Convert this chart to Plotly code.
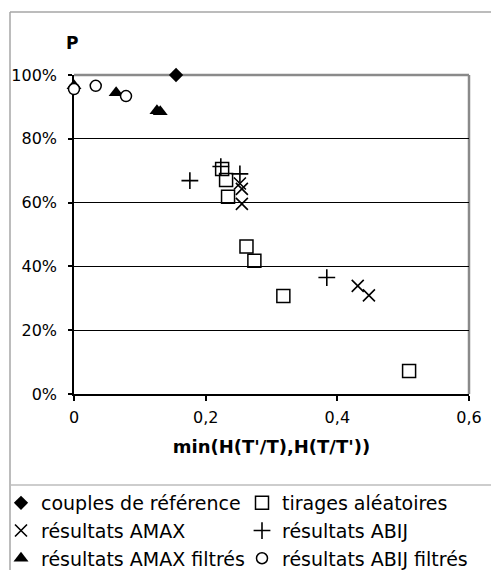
import plotly.graph_objects as go

# ---- data ----
ref_x = [0.155]
ref_y = [1.0]

tir_x = [0.225, 0.231, 0.234, 0.262, 0.274, 0.318, 0.509]
tir_y = [0.705, 0.671, 0.618, 0.462, 0.418, 0.307, 0.072]

amax_x = [0.252, 0.255, 0.255, 0.431, 0.448]
amax_y = [0.660, 0.643, 0.596, 0.339, 0.309]

abij_x = [0.176, 0.223, 0.252, 0.384]
abij_y = [0.669, 0.713, 0.690, 0.365]

amaxf_x = [0.0, 0.064, 0.126, 0.131]
amaxf_y = [0.966, 0.944, 0.888, 0.885]

abijf_x = [0.0, 0.033, 0.079]
abijf_y = [0.956, 0.966, 0.934]

x_ticks = [0, 0.2, 0.4, 0.6]
x_ticklabels = ["0", "0,2", "0,4", "0,6"]
y_ticks = [0, 0.2, 0.4, 0.6, 0.8, 1.0]
y_ticklabels = ["0%", "20%", "40%", "60%", "80%", "100%"]

FONT = "DejaVu Sans"
W, H = 491, 570
L, R, T, B = 74, 22, 75, 176
PW, PH = W - L - R, H - T - B


def px_x(p):
    return (p - L) / PW


def px_y(p):
    return (H - B - p) / PH


fig = go.Figure()
common = dict(mode="markers", cliponaxis=False, hoverinfo="skip")
fig.add_trace(go.Scatter(x=ref_x, y=ref_y, name="couples de référence", legend="legend",
                         marker=dict(symbol="diamond", size=11, color="black"), **common))
fig.add_trace(go.Scatter(x=tir_x, y=tir_y, name="tirages aléatoires", legend="legend2",
                         marker=dict(symbol="square-open", size=13, color="black",
                                     line=dict(width=1.5, color="black")), **common))
fig.add_trace(go.Scatter(x=amax_x, y=amax_y, name="résultats AMAX", legend="legend",
                         marker=dict(symbol="x-thin-open", size=12, color="black",
                                     line=dict(width=1.6, color="black")), **common))
fig.add_trace(go.Scatter(x=abij_x, y=abij_y, name="résultats ABIJ", legend="legend2",
                         marker=dict(symbol="cross-thin-open", size=12, color="black",
                                     line=dict(width=1.6, color="black")), **common))
fig.add_trace(go.Scatter(x=amaxf_x, y=amaxf_y, name="résultats AMAX filtrés", legend="legend",
                         marker=dict(symbol="triangle-up", size=13, color="black"), **common))
fig.add_trace(go.Scatter(x=abijf_x, y=abijf_y, name="résultats ABIJ filtrés", legend="legend2",
                         marker=dict(symbol="circle", size=11, color="white",
                                     line=dict(width=1.5, color="black")), **common))

frame = "#a6a6a6"
shapes = [
    # outer frame
    dict(type="line", xref="paper", yref="paper", x0=px_x(10), x1=px_x(10),
         y0=px_y(12), y1=px_y(600), line=dict(color=frame, width=1.5)),
    dict(type="line", xref="paper", yref="paper", x0=px_x(10), x1=px_x(520),
         y0=px_y(12), y1=px_y(12), line=dict(color=frame, width=1.5)),
    dict(type="line", xref="paper", yref="paper", x0=px_x(10), x1=px_x(520),
         y0=px_y(485), y1=px_y(485), line=dict(color="#bdbdbd", width=1.5)),
    # plot area border (top, right)
    dict(type="line", xref="paper", yref="paper", x0=0, x1=1, y0=1, y1=1,
         line=dict(color="#8a8a8a", width=2.5), layer="below"),
    dict(type="line", xref="paper", yref="paper", x0=1, x1=1, y0=0, y1=1,
         line=dict(color="#8a8a8a", width=2.5), layer="below"),
]

leg_common = dict(orientation="v", xanchor="left", y=px_y(484), yanchor="top",
                  font=dict(family=FONT, size=19, color="black"),
                  bgcolor="rgba(0,0,0,0)", itemclick=False, itemdoubleclick=False)

fig.update_layout(
    width=W, height=H,
    margin=dict(l=L, r=R, t=T, b=B, autoexpand=False),
    paper_bgcolor="white", plot_bgcolor="white",
    font=dict(family=FONT, size=16, color="black"),
    shapes=shapes,
    showlegend=True,
    legend=dict(x=px_x(1), **leg_common),
    legend2=dict(x=px_x(242), **leg_common),
    annotations=[dict(text="<b>P</b>", xref="paper", yref="paper",
                      x=px_x(72), y=px_y(43), xanchor="center", yanchor="middle",
                      showarrow=False,
                      font=dict(family=FONT, size=17, color="black"))],
)

fig.update_xaxes(range=[0, 0.6], tickvals=x_ticks, ticktext=x_ticklabels,
                 showgrid=False, zeroline=False, showline=True,
                 linecolor="black", linewidth=1.5, ticks="outside", ticklen=5,
                 tickcolor="black", tickwidth=1.5, layer="below traces",
                 ticklabelstandoff=3,
                 tickfont=dict(family=FONT, size=16, color="black"),
                 title=dict(text="<b>min(H(T'/T),H(T/T'))</b>", standoff=14,
                            font=dict(family=FONT, size=18, color="black")))
fig.update_yaxes(range=[0, 1], tickvals=y_ticks, ticktext=y_ticklabels,
                 showgrid=True, gridcolor="black", gridwidth=1,
                 zeroline=False, showline=True, linecolor="black", linewidth=1.5,
                 ticks="outside", ticklen=4, tickcolor="black", tickwidth=1.5,
                 ticklabelstandoff=8, layer="below traces",
                 tickfont=dict(family=FONT, size=16, color="black"))

fig.write_html("out.html", config={"displayModeBar": False},
               post_script="document.body.style.margin='0px';")
